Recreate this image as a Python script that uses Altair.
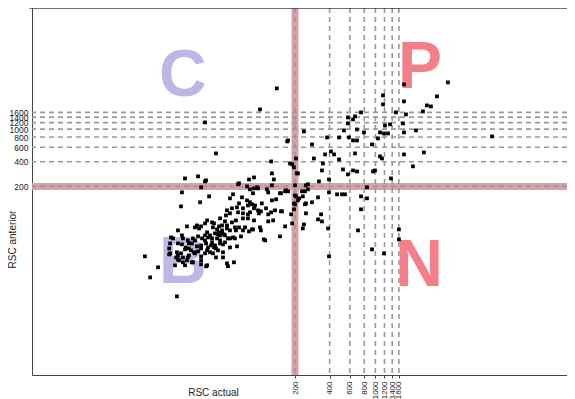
import altair as alt
import pandas as pd

# ---- data (log-log scatter) ----
points = [
    (9.9,28.0),(11.0,15.5),(12.9,20.6),(18.8,9.1),(18.1,21.8),(19.2,58.1),(23.0,65.0),(27.0,63.2),(28.1,66.8),(30.5,65.0),
    (33.0,70.7),(34.4,76.9),(38.0,72.7),(39.5,70.7),(43.7,65.0),(46.4,66.8),(51.2,66.8),(17.4,46.4),(20.8,50.5),(21.2,46.4),
    (19.2,40.3),(16.4,40.3),(20.8,39.2),(23.9,40.3),(25.9,46.4),(28.7,49.1),(31.1,46.4),(33.0,50.5),(36.5,50.5),(38.0,46.4),
    (40.3,53.4),(42.0,46.4),(44.6,50.5),(46.4,53.4),(49.2,50.5),(52.3,46.4),(49.2,41.5),(44.6,40.3),(40.3,38.1),(37.2,38.1),
    (33.7,40.3),(35.1,36.0),(30.5,35.0),(28.1,37.1),(28.7,32.2),(26.5,31.4),(23.9,35.0),(22.1,34.1),(20.4,30.5),(18.8,31.4),
    (16.4,30.5),(16.1,35.0),(18.5,27.2),(21.2,27.2),(23.4,27.2),(19.6,25.1),(25.4,23.7),(21.2,23.7),(22.1,21.8),(30.5,25.1),
    (34.4,21.8),(30.5,28.0),(38.7,30.5),(42.8,33.2),(47.3,31.4),(41.1,27.2),(51.2,23.0),(39.5,36.0),(33.0,30.5),(30.5,22.4),
    (52.3,21.2),(58.9,23.7),(62.6,37.1),(47.3,27.2),(54.4,46.4),(60.1,46.4),(67.8,49.1),(61.3,58.1),(54.4,58.1),(73.5,63.2),
    (84.5,59.7),(99.2,63.2),(101,58.1),(107,45.1),(148,49.1),(164,65.0),(41.1,505),(124,403),(33.0,230),(30.5,195),
    (65.2,218),(79.6,243),(88.0,257),(126,288),(181,381),(208,288),(81.2,184),(88.0,189),(95.3,189),(86.2,165),
    (114,184),(117,169),(126,206),(148,165),(167,179),(174,174),(200,155),(35.8,151),(57.8,160),(69.2,147),
    (54.4,143),(76.5,135),(81.2,128),(65.2,124),(84.5,121),(89.8,117),(103,124),(126,135),(137,139),(217,143),
    (51.2,102),(56.6,108),(62.6,111),(70.6,108),(78.0,117),(88.0,108),(95.3,102),(81.2,96.5),(78.0,91.2),(70.6,93.8),
    (63.9,96.5),(54.4,93.8),(50.2,88.5),(44.6,81.4),(49.2,74.8),(56.6,72.7),(61.3,76.9),(70.6,81.4),(78.0,81.4),(88.0,76.9),
    (97.2,93.8),(101,99.3),(112,108),(124,96.5),(134,102),(151,99.3),(117,91.2),(129,76.9),(117,74.8),(185,91.2),
    (189,70.7),(38.7,63.2),(42.0,59.7),(46.4,58.1),(51.2,61.4),(60.1,63.2),(65.2,63.2),(70.6,58.1),(79.6,56.5),(86.2,59.7),
    (34.4,54.9),(35.1,47.7),(42.8,51.9),(48.3,51.9),(57.8,47.7),(44.6,43.9),(47.3,39.2),(54.4,36.0),(110,43.9),(22.1,250),
    (28.7,265),(33.7,237),(20.8,169),(29.9,128),(20.4,114),(63.9,212),(76.5,200),(93.4,195),(131,243),(230,174),
    (244,174),(249,206),(234,151),(249,124),(196,124),(196,105),(249,93.8),(239,68.7),(234,61.4),(43.7,54.9),
    (29.3,61.4),(16.7,47.7),(23.4,43.9),(27.0,43.9),(30.5,38.1),(38.0,41.5),(41.1,35.0),(36.5,31.4),(34.4,33.2),(16.1,29.6),
    (19.2,28.8),(23.9,28.8),(24.9,33.2),(22.5,36.0),(27.0,30.5),(25.9,23.7),(23.0,25.1),(19.2,25.8),(33.7,21.2),(25.4,40.3),
    (33.0,43.9),
    (1772,3509),(4272,3712),(3428,2505),(1165,2577),(1772,2177),(1165,2001),(2807,1945),(3041,1891),(2591,1643),(1510,1598),
    (1845,1510),(750,1598),(665,1427),(639,1312),(577,1388),(1737,1173),(1340,1141),(1212,1109),(577,1173),(692,990),
    (533,963),(1097,911),(1188,885),(1287,885),(1772,911),(2253,963),(796,911),(10330,814),(380,791),(483,791),
    (589,791),(639,727),(692,727),(1053,769),(239,936),(171,707),(174,727),(281,650),(935,650),(2643,519),
    (1772,491),(411,534),(437,491),(665,505),(365,491),(1097,464),(1141,438),(292,438),(204,438),(483,426),
    (2122,351),(350,381),(189,371),(196,341),(343,313),(523,322),(639,313),(692,304),(577,280),(954,304),
    (992,313),(212,288),(395,243),(323,230),(1367,250),(259,212),(259,184),(200,206),(845,195),(164,174),
    (151,165),(204,151),(212,135),(317,147),(281,128),(395,169),(464,160),(512,160),(544,160),(750,151),
    (845,143),(200,121),(244,121),(337,91.2),(317,79.1),(343,74.8),(750,105),(154,99.3),(388,61.4),(706,58.1),
    (1602,59.7),(1602,45.1),(935,34.1),(1188,30.5),(395,28.0),(139,3137),(99.2,1738),(33.0,1206),
]
rsc_actual = [p[0] for p in points]
rsc_anterior = [p[1] for p in points]

thresholds = [200, 400, 600, 800, 1000, 1200, 1400, 1600]
cut_value = [200]

quad_letters = ["C", "P", "B", "N"]
quad_x = [21.2, 2444, 21.2, 2396]
quad_y = [2504, 3134, 13.1, 12.1]
quad_colors = ["#bfb6e6", "#f57f89", "#bfb6e6", "#f57f89"]

# ---- chart ----
W, H = 535, 367
FONT = "Liberation Sans"
xs = alt.Scale(type="log", domain=[1.033, 46360], nice=False)
ys = alt.Scale(type="log", domain=[1, 30000], nice=False)

x_axis = alt.Axis(values=thresholds, format="d", labelAngle=270, labelFontSize=8, labelPadding=3,
                  labelOverlap=False, labelBound=False, labelColor="#222",
                  tickSize=3, tickColor="#444", domainColor="#444", grid=False,
                  titleFontSize=10, titleFontWeight="normal", titleColor="#222",
                  titleX=181, titleY=17, titleAlign="center", titleBaseline="middle")
y_axis = alt.Axis(values=thresholds, format="d", labelFontSize=8.5, labelPadding=4, ticks=False,
                  labelOverlap=False, labelBound=False, labelColor="#222",
                  domainColor="#444", grid=False,
                  titleFontSize=10, titleFontWeight="normal", titleColor="#222",
                  titleX=-20, titleY=231, titleAngle=270, titleAlign="center", titleBaseline="middle")

def X(f):
    return alt.X(f, type="quantitative", scale=xs, axis=x_axis, title="RSC actual")

def Y(f):
    return alt.Y(f, type="quantitative", scale=ys, axis=y_axis, title="RSC anterior")

letters_df = pd.DataFrame({"x": quad_x, "y": quad_y, "t": quad_letters, "c": quad_colors})
pts_df = pd.DataFrame({"x": rsc_actual, "y": rsc_anterior})
thr_df = pd.DataFrame({"x": thresholds, "y": thresholds})
cut_df = pd.DataFrame({"x": cut_value, "y": cut_value})

letters = alt.Chart(letters_df).mark_text(font=FONT, fontWeight="bold", fontSize=66,
                                          align="center", baseline="alphabetic").encode(
    x=X("x"), y=Y("y"), text="t:N", color=alt.Color("c:N", scale=None))

band_v = alt.Chart(cut_df).mark_rule(color="#d9a0a8", strokeWidth=7).encode(x=X("x"))
band_h = alt.Chart(cut_df).mark_rule(color="#d9a0a8", strokeWidth=7).encode(y=Y("y"))

dash_v = alt.Chart(thr_df).mark_rule(color="#999999", strokeWidth=1.6, strokeDash=[5, 4]).encode(x=X("x"))
dash_h = alt.Chart(thr_df).mark_rule(color="#999999", strokeWidth=1.6, strokeDash=[5, 4]).encode(y=Y("y"))

pts = alt.Chart(pts_df).mark_square(size=14, color="black", opacity=1).encode(x=X("x"), y=Y("y"))

top_border = alt.Chart(pd.DataFrame({"a": [0]})).mark_rule(color="black", strokeWidth=1).encode(
    x=alt.value(-3), x2=alt.value(W), y=alt.value(0))

chart = alt.layer(letters, band_v, band_h, dash_v, dash_h, pts, top_border).properties(
    width=W, height=H,
    autosize=alt.AutoSizeParams(type="none"),
    padding={"left": 24, "top": 0, "right": 0, "bottom": 24},
).configure_view(stroke=None).configure(font=FONT)

chart.save("out.html", embed_options={"renderer": "svg", "actions": False})
